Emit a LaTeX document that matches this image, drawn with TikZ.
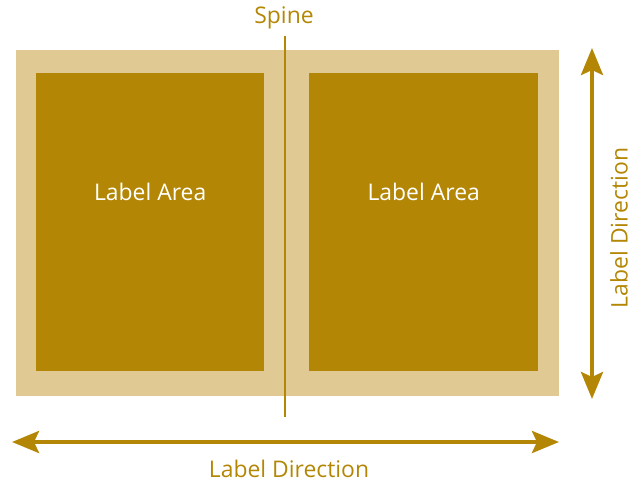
\documentclass[tikz,border=0pt]{standalone}
\usepackage{fontspec}
\setmainfont{Open Sans}
\usetikzlibrary{arrows.meta,positioning}
\definecolor{gold}{HTML}{B38705}
\definecolor{paper}{HTML}{E1C993}
\tikzset{
  area/.style={fill=gold, draw=none, anchor=north west, inner sep=0pt, minimum height=298bp},
  areatext/.style={text=white, font=\fontsize{23}{27}\selectfont},
  goldtext/.style={text=gold, font=\fontsize{23}{27}\selectfont},
  direction/.style={draw=gold, line width=4bp, {Stealth[length=27bp, width=22bp, inset=5bp]}-{Stealth[length=27bp, width=22bp, inset=5bp]}}
}
\begin{document}
\begin{tikzpicture}[x=1bp, y=-1bp]
\useasboundingbox (0,0) rectangle (634,483);
% page spread
\fill[paper] (16,50) rectangle (559,396);
\node[area, minimum width=228bp] (LA) at (36,73) {};
\node[area, minimum width=229bp] (RA) at (309,73) {};
\node[areatext] (LAtext) at ([yshift=30bp]LA.center) {Label Area};
\node[areatext] (RAtext) at ([yshift=30bp]RA.center) {Label Area};
%============
\node[goldtext] (spine) at (284,18) {Spine};
\coordinate (spinetop) at (285,36);
\coordinate (spinebot) at (285,417);
\draw[gold, line width=2bp] (spinetop) -- (spinebot);
%============
\coordinate (hl) at (12,442);
\coordinate (hr) at (559,442);
\draw[direction] (hl) -- (hr);
\node[goldtext] (hdir) at (289,469) {Label Direction};
\coordinate (vt) at (592,48);
\coordinate (vb) at (592,399);
\draw[direction] (vb) -- (vt);
\node[goldtext, rotate=90] (vdir) at (619,228) {Label Direction};
\end{tikzpicture}
\end{document}
